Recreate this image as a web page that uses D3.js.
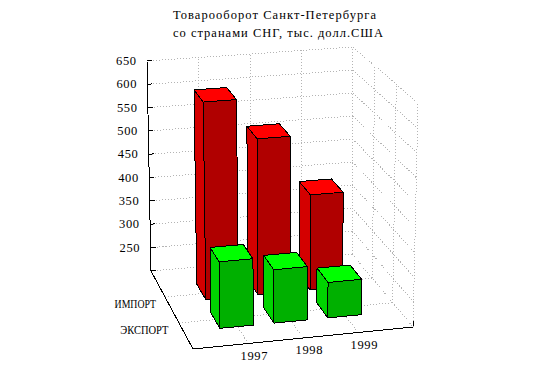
<!DOCTYPE html>
<html>
<head>
<meta charset="utf-8">
<script src="https://cdn.jsdelivr.net/npm/d3@7"></script>
<style>
  html, body { margin: 0; padding: 0; background: #fff; }
  text { font-family: "Liberation Serif", serif; font-size: 12.5px; fill: #000; }
  line, polygon { shape-rendering: crispEdges; }
</style>
</head>
<body>
<div id="chart"></div>
<script>
/////////////////////////////// Data ///////////////////////////////
var years = ["1997", "1998", "1999"];
var seriesNames = ["ЭКСПОРТ", "ИМПОРТ"];
var importValues = [610, 525, 399];
var exportValues = [334, 308, 272];
var zTicks = [250, 300, 350, 400, 450, 500, 550, 600, 650];
var titleLines = ["Товарооборот Санкт-Петербурга", "со странами СНГ, тыс. долл.США"];

var width = 544, height = 373;

var svg = d3.select("#chart").append("svg")
  .attr("width", width)
  .attr("height", height)
  .style("display", "block");

/////////////////////////////// Scales /////////////////////////////
// unit cube coordinates
var xScale = d3.scaleLinear().domain([0, 4]).range([0, 1]);
var yScale = d3.scaleLinear().domain([0, 3]).range([0, 1]);
var zScale = d3.scaleLinear().domain([200, 650]).range([0, 1]);

var barHalfX = 0.31, barHalfY = 0.3;

// pixel corners of the box: f/b = front/back, l/r = left/right
var box = {
  fl: { lo: [193, 349], hi: [189, 121] },
  fr: { lo: [413, 327], hi: [418, 103] },
  bl: { lo: [151, 271], hi: [147, 61] },
  br: { lo: [352, 254], hi: [353, 47] }
};

function lerp(a, b, t) { return a + (b - a) * t; }

function project(x, y, z) {
  var u = xScale(x), v = yScale(y), w = zScale(z);
  return [0, 1].map(function(i) {
    var front = lerp(lerp(box.fl.lo[i], box.fr.lo[i], u), lerp(box.fl.hi[i], box.fr.hi[i], u), w);
    var back = lerp(lerp(box.bl.lo[i], box.br.lo[i], u), lerp(box.bl.hi[i], box.br.hi[i], u), w);
    return lerp(front, back, v);
  });
}

function seg(g, a, b, cls) {
  var p = project.apply(null, a), q = project.apply(null, b);
  g.append("line").attr("class", cls)
    .attr("x1", p[0]).attr("y1", p[1]).attr("x2", q[0]).attr("y2", q[1]);
}

/////////////////////////////// Grid ///////////////////////////////
var grid = svg.append("g")
  .attr("fill", "none")
  .attr("stroke", "#b4b4b4")
  .attr("stroke-dasharray", "1,2");

var zMin = 200, zMax = 650;

// horizontal lines on back and right walls
zTicks.forEach(function(z) {
  seg(grid, [0, 3, z], [4, 3, z], "grid");
  seg(grid, [4, 3, z], [4, 0, z], "grid");
});
// verticals on back wall and floor lines for each year
years.forEach(function(d, i) {
  seg(grid, [i + 1, 3, zMin], [i + 1, 3, zMax], "grid");
  seg(grid, [i + 1, 0, zMin], [i + 1, 3, zMin], "grid");
});
// verticals on right wall and floor lines for each series
seriesNames.forEach(function(d, i) {
  seg(grid, [4, i + 1, zMin], [4, i + 1, zMax], "grid");
  seg(grid, [0, i + 1, zMin], [4, i + 1, zMin], "grid");
});
seg(grid, [0, 3, zMin], [4, 3, zMin], "grid");
seg(grid, [4, 3, zMin], [4, 0, zMin], "grid");
seg(grid, [4, 3, zMin], [4, 3, zMax], "grid");
seg(grid, [4, 0, zMin], [4, 0, zMax], "grid");

/////////////////////////////// Axes ///////////////////////////////
var axes = svg.append("g").attr("stroke", "#000").attr("fill", "none");
seg(axes, [0, 3, zMin], [0, 3, zMax], "axis");
seg(axes, [0, 0, zMin], [0, 3, zMin], "axis");
seg(axes, [0, 0, zMin], [4, 0, zMin], "axis");
seg(axes, [4, 0, zMin], [4, 0, zMin + 12], "axis");

zTicks.concat([zMin]).forEach(function(z) {
  var p = project(0, 3, z);
  axes.append("line")
    .attr("x1", p[0]).attr("y1", p[1]).attr("x2", p[0] + 5).attr("y2", p[1] - 0.5);
});

svg.append("g").selectAll("text").data(zTicks).enter().append("text")
  .attr("x", function(d) { return project(0, 3, d)[0] - 11; })
  .attr("y", function(d) { return project(0, 3, d)[1] + 4; })
  .attr("text-anchor", "end")
  .attr("textLength", 20)
  .text(function(d) { return d; });

svg.append("g").selectAll("text").data(years).enter().append("text")
  .attr("x", function(d, i) { var p = project(i + 1, 0, zMin); return p[0] + 6; })
  .attr("y", function(d, i) { var p = project(i + 1, 0, zMin); return p[1] + 16; })
  .attr("text-anchor", "middle")
  .attr("textLength", 27)
  .text(function(d) { return d; });

svg.append("g").selectAll("text").data(seriesNames).enter().append("text")
  .attr("x", function(d, i) { return project(0, i + 1, zMin)[0] - (i ? 9 : 10.5); })
  .attr("y", function(d, i) { return project(0, i + 1, zMin)[1] + 11; })
  .attr("text-anchor", "end")
  .attr("textLength", function(d) { return d.length * 6.9; })
  .attr("lengthAdjust", "spacingAndGlyphs")
  .text(function(d) { return d; });

/////////////////////////////// Bars ///////////////////////////////
function drawBar(g, xc, yc, value, colors) {
  var x0 = xc - barHalfX, x1 = xc + barHalfX, y0 = yc - barHalfY, y1 = yc + barHalfY;
  var faces = [
    { pts: [[x0, y1, zMin], [x0, y0, zMin], [x0, y0, value], [x0, y1, value]], fill: colors.side },
    { pts: [[x0, y0, zMin], [x1, y0, zMin], [x1, y0, value], [x0, y0, value]], fill: colors.front },
    { pts: [[x0, y1, value], [x0, y0, value], [x1, y0, value], [x1, y1, value]], fill: colors.top }
  ];
  g.selectAll("polygon").data(faces).enter().append("polygon")
    .attr("points", function(d) {
      return d.pts.map(function(p) { return project(p[0], p[1], p[2]).join(","); }).join(" ");
    })
    .attr("fill", function(d) { return d.fill; })
    .attr("stroke", "#000")
    .attr("stroke-width", 1)
    .attr("stroke-linejoin", "round");
}

var redColors = { top: "#ff0000", front: "#b00000", side: "#d40000" };
var greenColors = { top: "#00ff00", front: "#00b000", side: "#00d400" };

importValues.forEach(function(v, i) {
  drawBar(svg.append("g"), i + 1.03, 2.07, v, redColors);
});
exportValues.forEach(function(v, i) {
  drawBar(svg.append("g"), i + 0.98, 0.96, v, greenColors);
});

/////////////////////////////// Title //////////////////////////////
svg.append("g").selectAll("text").data(titleLines).enter().append("text")
  .attr("x", 173)
  .attr("y", function(d, i) { return 19 + i * 18; })
  .attr("textLength", function(d) { return d.length * 7; })
  .text(function(d) { return d; });
</script>
</body>
</html>
